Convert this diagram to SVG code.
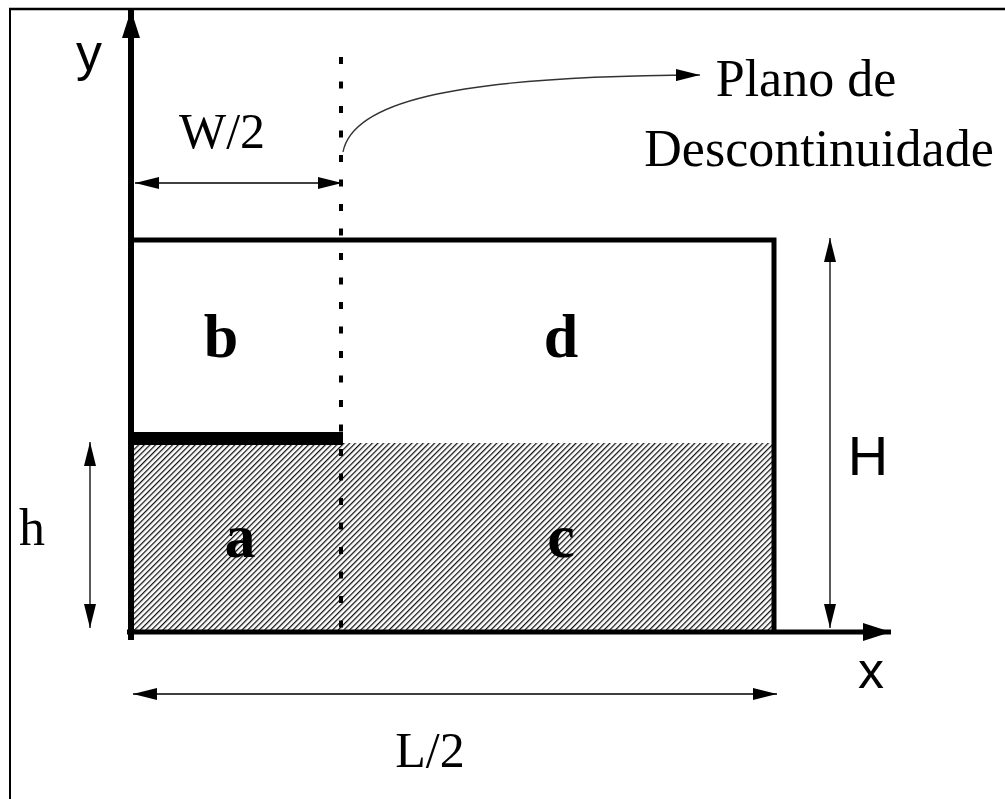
<svg xmlns="http://www.w3.org/2000/svg" width="1005" height="799" viewBox="0 0 1005 799">
<defs>
<pattern id="hatch" width="4" height="4" patternUnits="userSpaceOnUse" patternTransform="rotate(45)">
<rect width="4" height="4" fill="#ffffff"/>
<line x1="0" y1="0" x2="0" y2="4" stroke="#111" stroke-width="2.5"/>
</pattern>
<marker id="ah" viewBox="0 0 24 12" refX="24" refY="6" markerWidth="24" markerHeight="12" markerUnits="userSpaceOnUse" orient="auto">
<path d="M0,0 L24,6 L0,12 Z" fill="#000"/>
</marker>
<marker id="ahs" viewBox="0 0 24 12" refX="0" refY="6" markerWidth="24" markerHeight="12" markerUnits="userSpaceOnUse" orient="auto">
<path d="M24,0 L0,6 L24,12 Z" fill="#000"/>
</marker>
<marker id="ahBig" viewBox="0 0 28 18" refX="28" refY="9" markerWidth="28" markerHeight="18" markerUnits="userSpaceOnUse" orient="auto">
<path d="M0,0 L28,9 L0,18 Z" fill="#000"/>
</marker>
</defs>
<style>
.serif{font-family:"Liberation Serif","Times New Roman",serif;fill:#000}
.sans{font-family:"Liberation Sans",Arial,sans-serif;fill:#000}
.region{font-family:"Liberation Serif","Times New Roman",serif;font-weight:bold;font-size:62px;text-anchor:middle;fill:#000}
.dim{stroke:#000;stroke-width:1.3;fill:none}
.thick{stroke:#000;stroke-width:5;fill:none}
</style>
<rect width="1005" height="799" fill="#fff"/>
<g id="frame">
<line x1="9" y1="9" x2="1005" y2="9" stroke="#000" stroke-width="2.5"/>
<line x1="10" y1="8" x2="10" y2="799" stroke="#000" stroke-width="2"/>
</g>
<g id="liquid">
<rect x="131" y="445" width="212" height="187" fill="url(#hatch)"/>
<rect x="343" y="443" width="431" height="189" fill="url(#hatch)"/>
</g>
<g id="container">
<path class="thick" d="M131,240 L774,240 L774,632"/>
<rect x="131" y="432" width="212" height="13" fill="#000"/>
</g>
<g id="connectors">
<line x1="131" y1="640" x2="131" y2="10" stroke="#000" stroke-width="6" marker-end="url(#ahBig)"/>
<line x1="127" y1="632" x2="891" y2="632" stroke="#000" stroke-width="5" marker-end="url(#ahBig)"/>
<line x1="341" y1="57" x2="341" y2="632" stroke="#000" stroke-width="4" stroke-dasharray="7 17.5"/>
<line class="dim" x1="135" y1="183" x2="342" y2="183" marker-start="url(#ahs)" marker-end="url(#ah)"/>
<line class="dim" x1="830" y1="238" x2="830" y2="628" marker-start="url(#ahs)" marker-end="url(#ah)"/>
<line class="dim" x1="90" y1="442" x2="90" y2="628" marker-start="url(#ahs)" marker-end="url(#ah)"/>
<line class="dim" x1="133" y1="694" x2="777" y2="694" marker-start="url(#ahs)" marker-end="url(#ah)"/>
<path d="M343,152 C352,105 440,76 700,75" stroke="#333" stroke-width="1.3" fill="none" marker-end="url(#ah)"/>
</g>
<g id="labels">
<text class="sans" x="89" y="70" font-size="52" text-anchor="middle">y</text>
<text class="sans" x="871" y="688" font-size="52" text-anchor="middle">x</text>
<text class="sans" x="868" y="475" font-size="56" text-anchor="middle">H</text>
<text class="serif" x="32" y="545" font-size="52" text-anchor="middle">h</text>
<text class="serif" x="222" y="148" font-size="50" text-anchor="middle">W/2</text>
<text class="serif" x="430" y="767" font-size="50" text-anchor="middle">L/2</text>
<text class="serif" x="806" y="96" font-size="52" text-anchor="middle">Plano de</text>
<text class="serif" x="819" y="166" font-size="52" text-anchor="middle">Descontinuidade</text>
</g>
<g id="regions">
<text class="region" x="221" y="357">b</text>
<text class="region" x="561" y="357">d</text>
<text class="region" x="240" y="557">a</text>
<text class="region" x="561" y="557">c</text>
</g>
</svg>
